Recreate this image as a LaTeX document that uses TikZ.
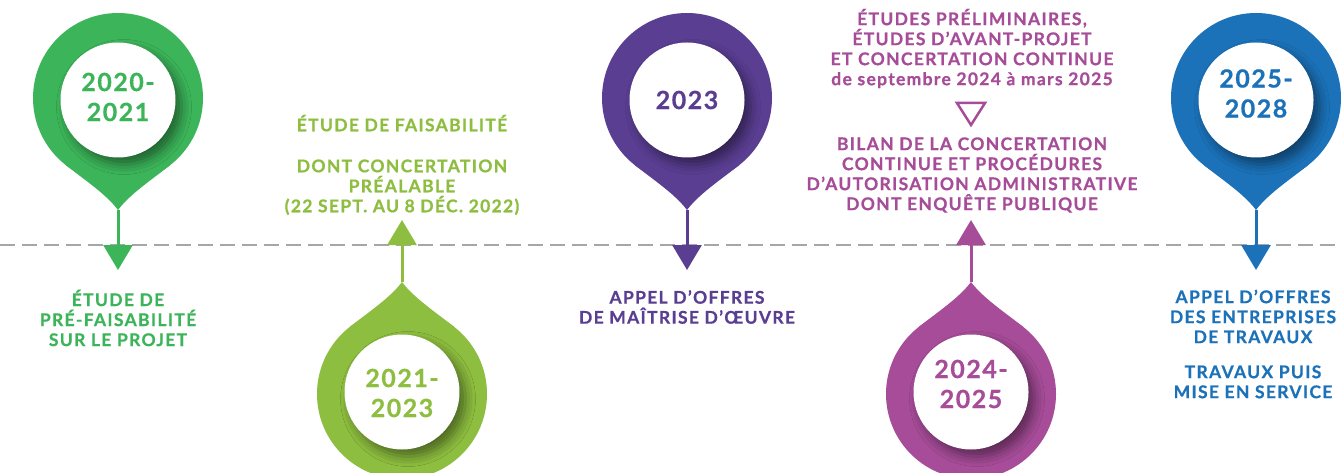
\documentclass[tikz,border=0pt]{standalone}
\usepackage{fontspec}
\setmainfont{Lato}
\newfontfamily\labfont{Lato}[LetterSpace=7.5, BoldFeatures={FakeBold=0.6}]
\newfontfamily\yrfont{Lato}[LetterSpace=6, BoldFeatures={FakeBold=0.6}]
\usetikzlibrary{arrows.meta,shadows.blur}
\definecolor{cA}{HTML}{3CB55A}
\definecolor{cB}{HTML}{8DBE3F}
\definecolor{cC}{HTML}{5A3E92}
\definecolor{cD}{HTML}{A64C98}
\definecolor{cE}{HTML}{1B72B9}
\definecolor{dashgray}{HTML}{A6A6A6}
\newcommand\drawpin[6]{%
  % #1 x, #2 y, #3 direction, #4 colour, #5 inner y, #6 disc name
  \fill[#4] (#1,#2) circle[radius=85];
  \fill[#4] ({#1-52.7},{#2+(#3)*66.7}) .. controls ({#1-33.1},{#2+(#3)*82.2}) and ({#1-12},{#2+(#3)*96}) .. ({#1},{#2+(#3)*112})
     .. controls ({#1+12},{#2+(#3)*96}) and ({#1+33.1},{#2+(#3)*82.2}) .. ({#1+52.7},{#2+(#3)*66.7}) -- cycle;
  \begin{scope}
    \clip (#1,#2) circle[radius=85];
    \node[disc] (#6) at (#1,#5) {};
  \end{scope}
}
\tikzset{
  disc/.style={circle, fill=white, minimum size=115pt, inner sep=0pt,
    blur shadow={shadow xshift=6pt, shadow yshift=-7pt, shadow blur radius=10pt, shadow opacity=45}},
  stem/.style={draw=#1, line width=3pt, -{Triangle[width=29pt,length=25pt]}},
  timeline/.style={draw=dashgray, line width=2pt, dash pattern=on 15pt off 7pt},
  lab/.style={align=center, inner sep=0pt, text=#1,
    font=\labfont\bfseries\fontsize{17.5}{20}\selectfont},
  yr/.style={align=center, inner sep=0pt, text=#1,
    font=\yrfont\bfseries\fontsize{25}{30}\selectfont},
}
\begin{document}
\begin{tikzpicture}[x=1pt,y=-1pt]
\useasboundingbox (0,0) rectangle (1341,473);
\fill[white] (0,0) rectangle (1341,473);
\coordinate (tl0) at (0,245);
\coordinate (tl1) at (1341,245);
\draw[timeline] (tl0) -- (tl1);

% pins
\drawpin{118}{98}{1}{cA}{100}{w1}
\drawpin{402}{394}{-1}{cB}{392}{w2}
\drawpin{687}{98}{1}{cC}{100}{w3}
\drawpin{971}{394}{-1}{cD}{392}{w4}
\drawpin{1256}{98}{1}{cE}{100}{w5}

% tips and arrow points
\coordinate (t1) at (118,210);  \coordinate (a1) at (118,270);
\coordinate (t2) at (402,282);  \coordinate (a2) at (402,220);
\coordinate (t3) at (687,210);  \coordinate (a3) at (687,270);
\coordinate (t4) at (971,282);  \coordinate (a4) at (971,220);
\coordinate (t5) at (1256,210); \coordinate (a5) at (1256,270);
\draw[stem=cA] (t1) -- (a1);
\draw[stem=cB] (t2) -- (a2);
\draw[stem=cC] (t3) -- (a3);
\draw[stem=cD] (t4) -- (a4);
\draw[stem=cE] (t5) -- (a5);

% years
\node[yr=cA] (y1) at (118,97) {2020-\\2021};
\node[yr=cB] (y2) at (402,393) {2021-\\2023};
\node[yr=cC] (y3) at (687,100) {2023};
\node[yr=cD] (y4) at (971,384) {2024-\\2025};
\node[yr=cE] (y5) at (1256,93.5) {2025-\\2028};

% labels
\node[lab=cA] (l1) at (118,318) {ÉTUDE DE\\PRÉ-FAISABILITÉ\\SUR LE PROJET};
\node[lab=cB] (l2) at (402,165) {ÉTUDE DE FAISABILITÉ\\[21pt]DONT CONCERTATION\\PRÉALABLE\\(22 SEPT. AU 8 DÉC. 2022)};
\node[lab=cC] (l3) at (687,307) {APPEL D’OFFRES\\DE MAÎTRISE D’ŒUVRE};
\node[lab=cD] (l4a) at (972,48.5) {ÉTUDES PRÉLIMINAIRES,\\ÉTUDES D’AVANT-PROJET\\ET CONCERTATION CONTINUE\\de septembre 2024 à mars 2025};
\draw[cD, line width=2.5pt] (957,103) -- (985,103) -- (971,125) -- cycle;
\node[lab=cD] (l4b) at (972,175) {BILAN DE LA CONCERTATION\\CONTINUE ET PROCÉDURES\\D’AUTORISATION ADMINISTRATIVE\\DONT ENQUÊTE PUBLIQUE};
\node[lab=cE] (l5) at (1253,344) {APPEL D’OFFRES\\DES ENTREPRISES\\DE TRAVAUX\\[15pt]TRAVAUX PUIS\\MISE EN SERVICE};
\end{tikzpicture}
\end{document}
